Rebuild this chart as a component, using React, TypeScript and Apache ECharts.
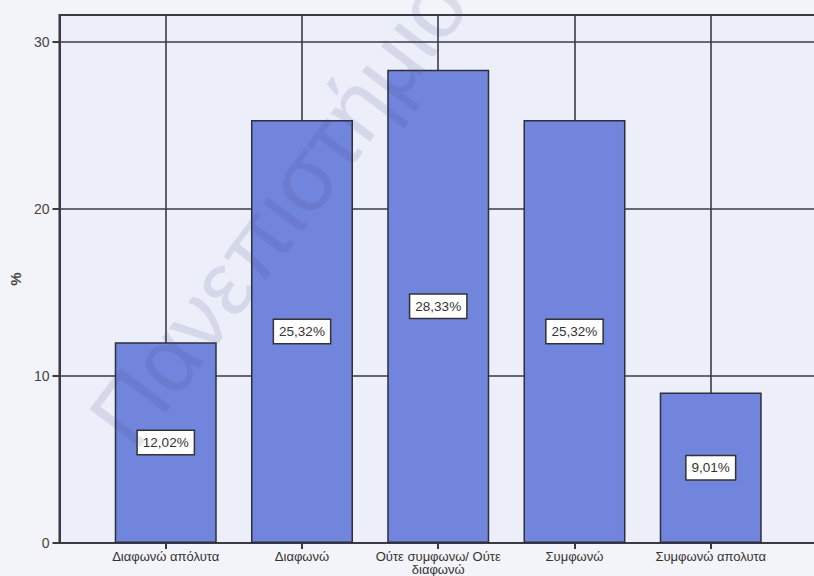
import React, { useEffect, useRef } from "react";
import * as echarts from "echarts";

const categories = [
  "Διαφωνώ απόλυτα",
  "Διαφωνώ",
  "Ούτε συμφωνω/ Ούτε\nδιαφωνώ",
  "Συμφωνώ",
  "Συμφωνώ απολυτα",
];
const percentages = [12.02, 25.32, 28.33, 25.32, 9.01];
const yTickValues = [0, 10, 20, 30];
const yAxisName = "%";
const watermarkText = "Πανεπιστήμιο";

const FONT = "'Liberation Sans', Arial, sans-serif";
const LINE = "#3a3a44";

export default function App() {
  const ref = useRef<HTMLDivElement>(null);

  useEffect(() => {
    if (!ref.current) return;
    const chart = echarts.init(ref.current, null, { renderer: "svg" });
    const positions = categories.map((_, i) => i + 1);
    chart.setOption({
      animation: false,
      backgroundColor: "#f3f4f9",
      grid: {
        left: 58,
        right: 3,
        top: 15,
        bottom: 33,
        show: true,
        backgroundColor: "#eceef9",
        borderColor: LINE,
        borderWidth: 2,
      },
      xAxis: {
        type: "value",
        min: 0.22,
        max: 5.78,
        axisLine: { show: true, lineStyle: { color: LINE, width: 2 } },
        axisTick: {
          show: true,
          length: 6,
          customValues: positions,
          lineStyle: { color: LINE, width: 2 },
        },
        axisLabel: {
          customValues: positions,
          margin: 7,
          fontSize: 13,
          fontFamily: FONT,
          color: "#333",
          lineHeight: 13,
          formatter: (v: number) => categories[Math.round(v) - 1] ?? "",
        },
        splitLine: {
          show: true,
          lineStyle: { color: LINE, width: 1.6 },
        },
      },
      yAxis: {
        type: "value",
        min: 0,
        max: 31.6,
        interval: 10,
        name: yAxisName,
        nameLocation: "middle",
        nameGap: 32,
        nameTextStyle: { fontSize: 15, fontFamily: FONT, color: "#444", fontWeight: "bold" },
        axisLine: { show: true, lineStyle: { color: LINE, width: 2 } },
        axisTick: {
          show: true,
          length: 7,
          customValues: yTickValues,
          lineStyle: { color: LINE, width: 2 },
        },
        axisLabel: {
          customValues: yTickValues,
          margin: 10,
          fontSize: 14,
          fontFamily: FONT,
          color: "#444",
        },
        splitLine: { show: true, lineStyle: { color: LINE, width: 1.6 } },
      },
      series: [
        {
          type: "bar",
          barWidth: 102,
          data: percentages.map((v, i) => [positions[i], v]),
          itemStyle: { color: "#7285dc", borderColor: "#2e2f3c", borderWidth: 1.5 },
          label: {
            show: true,
            position: "inside",
            formatter: (p: any) => p.value[1].toFixed(2).replace(".", ",") + "%",
            backgroundColor: "#ffffff",
            borderColor: "#333",
            borderWidth: 1.5,
            padding: [5, 5, 4, 5],
            fontSize: 13.5,
            fontFamily: FONT,
            color: "#333",
          },
        },
      ],
      graphic: [
        {
          type: "text",
          x: 147,
          y: 462,
          rotation: 0.925,
          z: 100,
          silent: true,
          style: {
            text: watermarkText,
            fontSize: 92,
            fontFamily: FONT,
            fill: "rgba(60,70,130,0.13)",
            textAlign: "left",
            textVerticalAlign: "bottom",
          },
        },
      ],
    });
    return () => chart.dispose();
  }, []);

  return (
    <div
      style={{
        position: "fixed",
        left: 0,
        top: 0,
        width: 814,
        height: 576,
        overflow: "hidden",
        background: "#f3f4f9",
      }}
    >
      <div ref={ref} style={{ width: 820, height: 576 }} />
    </div>
  );
}
